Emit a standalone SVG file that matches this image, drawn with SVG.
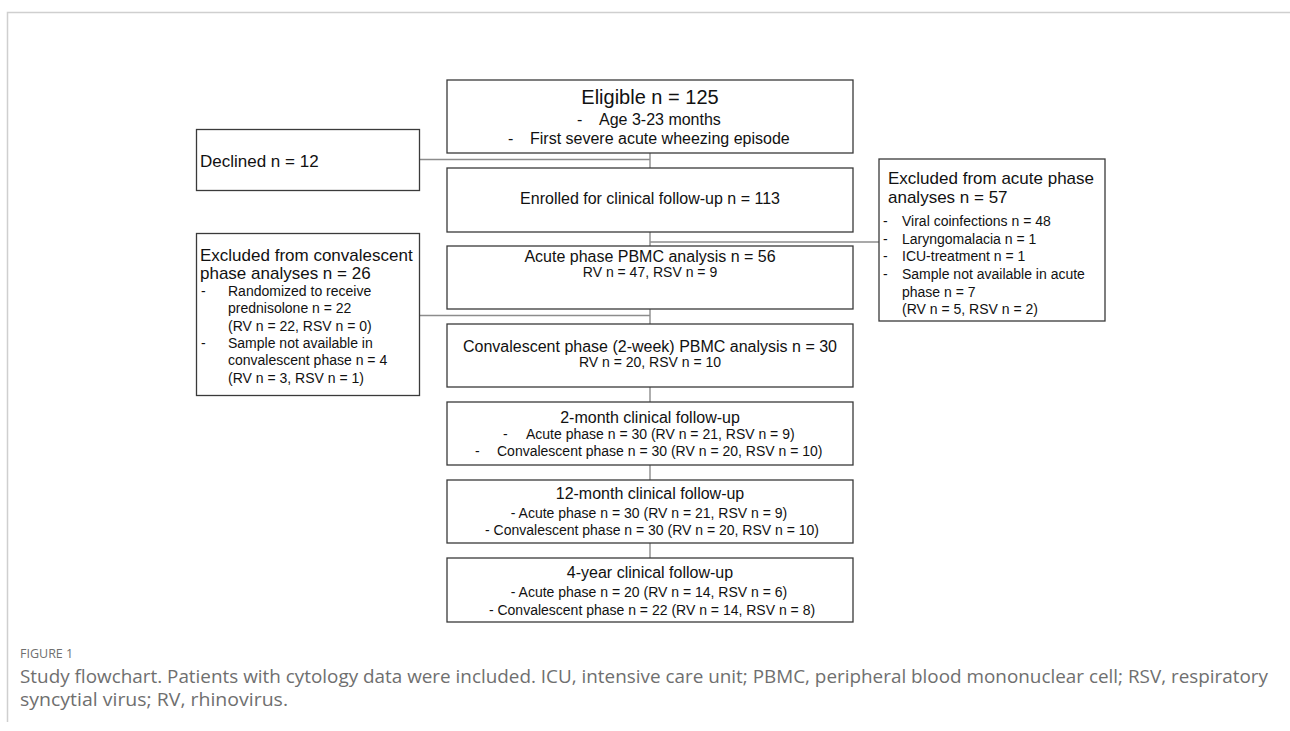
<svg xmlns="http://www.w3.org/2000/svg" width="1290" height="731" viewBox="0 0 1290 731">
<style>
.box{fill:#fff;stroke:#3a3a3a;stroke-width:1.3}
.t{font-family:"Liberation Sans",Arial,sans-serif;fill:#111}
.c{text-anchor:middle}
.f20{font-size:20px}.f17{font-size:17px}.f16{font-size:16px}.f14{font-size:14px}
.conn{stroke:#8c8c8c;stroke-width:1.4;fill:none}
.frame{stroke:#cfcfcf;stroke-width:1.5;fill:none}
.cap{font-family:"Open Sans","Liberation Sans",sans-serif;fill:#6f6f6f}
</style>
<rect width="1290" height="731" fill="#fff"/>
<path class="frame" d="M7.5,722 V12.5 H1290"/>

<g id="connectors">
<line class="conn" x1="650" y1="153" x2="650" y2="168"/>
<line class="conn" x1="420" y1="159.5" x2="650" y2="159.5"/>
<line class="conn" x1="650" y1="232" x2="650" y2="246"/>
<line class="conn" x1="650" y1="242" x2="879" y2="242"/>
<line class="conn" x1="650" y1="309" x2="650" y2="324"/>
<line class="conn" x1="420" y1="315.5" x2="650" y2="315.5"/>
<line class="conn" x1="650" y1="387" x2="650" y2="402"/>
<line class="conn" x1="650" y1="465" x2="650" y2="480"/>
<line class="conn" x1="650" y1="543" x2="650" y2="558"/>
</g>

<g id="eligible">
<rect class="box" x="447" y="80" width="406" height="73"/>
<text class="t f20 c" x="650" y="104">Eligible n = 125</text>
<text class="t f16" x="577" y="125">-</text>
<text class="t f16" x="599" y="125">Age 3-23 months</text>
<text class="t f16" x="508" y="144">-</text>
<text class="t f16" x="530" y="144">First severe acute wheezing episode</text>
</g>

<g id="declined">
<rect class="box" x="196.5" y="129.5" width="223" height="61"/>
<text class="t f17" x="200" y="167">Declined n = 12</text>
</g>

<g id="enrolled">
<rect class="box" x="447" y="168" width="406" height="64"/>
<text class="t f16 c" x="650" y="204">Enrolled for clinical follow-up n = 113</text>
</g>

<g id="excluded-acute">
<rect class="box" x="879" y="159" width="226" height="162"/>
<text class="t f17" x="888" y="184">Excluded from acute phase</text>
<text class="t f17" x="888" y="203">analyses n = 57</text>
<text class="t f14" x="883" y="226">-</text><text class="t f14" x="902" y="226">Viral coinfections n = 48</text>
<text class="t f14" x="883" y="244">-</text><text class="t f14" x="902" y="244">Laryngomalacia n = 1</text>
<text class="t f14" x="883" y="261">-</text><text class="t f14" x="902" y="261">ICU-treatment n = 1</text>
<text class="t f14" x="883" y="279">-</text><text class="t f14" x="902" y="279">Sample not available in acute</text>
<text class="t f14" x="902" y="297">phase n = 7</text>
<text class="t f14" x="902" y="314">(RV n = 5, RSV n = 2)</text>
</g>

<g id="excluded-convalescent">
<rect class="box" x="196.5" y="233.5" width="223" height="162"/>
<text class="t f17" x="200" y="261">Excluded from convalescent</text>
<text class="t f17" x="200" y="279">phase analyses n = 26</text>
<text class="t f14" x="201" y="296">-</text><text class="t f14" x="228" y="296">Randomized to receive</text>
<text class="t f14" x="228" y="313">prednisolone n = 22</text>
<text class="t f14" x="228" y="331">(RV n = 22, RSV n = 0)</text>
<text class="t f14" x="201" y="348">-</text><text class="t f14" x="228" y="348">Sample not available in</text>
<text class="t f14" x="228" y="365">convalescent phase n = 4</text>
<text class="t f14" x="228" y="383">(RV n = 3, RSV n = 1)</text>
</g>

<g id="acute-pbmc">
<rect class="box" x="447" y="246" width="406" height="63"/>
<text class="t f16 c" x="650" y="262">Acute phase PBMC analysis n = 56</text>
<text class="t f14 c" x="650" y="277">RV n = 47, RSV n = 9</text>
</g>

<g id="convalescent-pbmc">
<rect class="box" x="447" y="324" width="406" height="63"/>
<text class="t f16 c" x="650" y="352">Convalescent phase (2-week) PBMC analysis n = 30</text>
<text class="t f14 c" x="650" y="367">RV n = 20, RSV n = 10</text>
</g>

<g id="followup-2m">
<rect class="box" x="447" y="402" width="406" height="63"/>
<text class="t f16 c" x="650" y="423">2-month clinical follow-up</text>
<text class="t f14" x="503" y="439">-</text><text class="t f14" x="526" y="439">Acute phase n = 30 (RV n = 21, RSV n = 9)</text>
<text class="t f14" x="475" y="456">-</text><text class="t f14" x="497" y="456">Convalescent phase n = 30 (RV n = 20, RSV n = 10)</text>
</g>

<g id="followup-12m">
<rect class="box" x="447" y="480" width="406" height="63"/>
<text class="t f16 c" x="650" y="499">12-month clinical follow-up</text>
<text class="t f14 c" x="649" y="518">- Acute phase n = 30 (RV n = 21, RSV n = 9)</text>
<text class="t f14 c" x="652" y="535">- Convalescent phase n = 30 (RV n = 20, RSV n = 10)</text>
</g>

<g id="followup-4y">
<rect class="box" x="447" y="558" width="406" height="64"/>
<text class="t f16 c" x="650" y="578">4-year clinical follow-up</text>
<text class="t f14 c" x="649" y="597">- Acute phase n = 20 (RV n = 14, RSV n = 6)</text>
<text class="t f14 c" x="652" y="615">- Convalescent phase n = 22 (RV n = 14, RSV n = 8)</text>
</g>

<g id="caption">
<text class="cap" x="20" y="658" font-size="12.5" fill="#555">FIGURE 1</text>
<text class="cap" x="20" y="683" font-size="18" textLength="1248" lengthAdjust="spacingAndGlyphs">Study flowchart. Patients with cytology data were included. ICU, intensive care unit; PBMC, peripheral blood mononuclear cell; RSV, respiratory</text>
<text class="cap" x="20" y="706" font-size="18" textLength="268" lengthAdjust="spacingAndGlyphs">syncytial virus; RV, rhinovirus.</text>
</g>
</svg>
